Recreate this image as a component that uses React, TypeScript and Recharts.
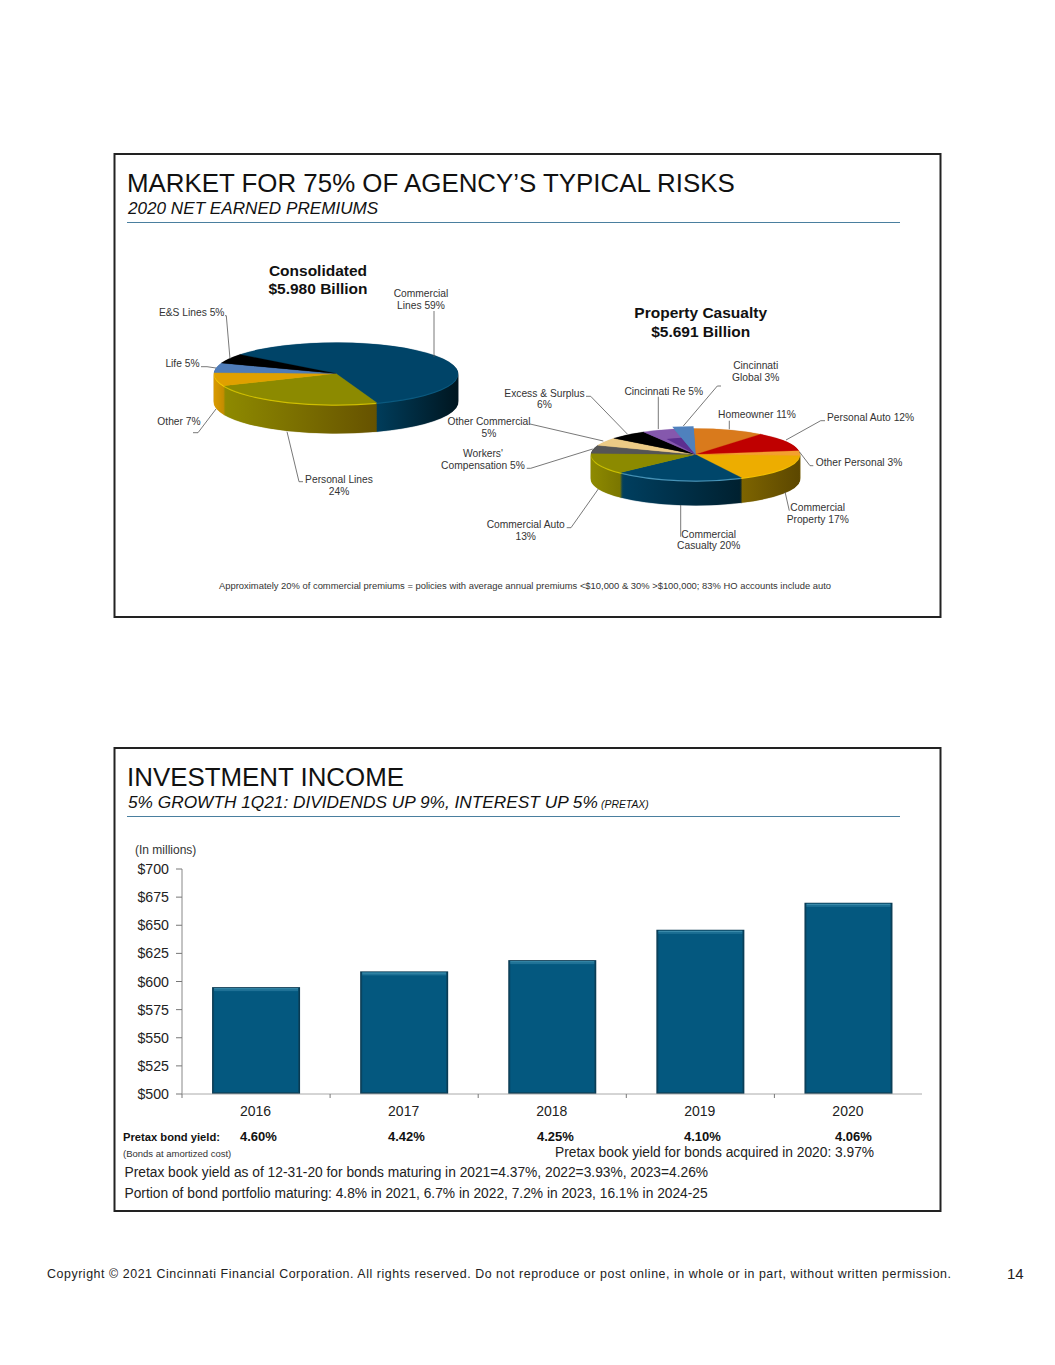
import React from "react";
import { PieChart, Pie, Cell, BarChart, Bar, XAxis, YAxis } from "recharts";

// ---- data ----
const consolidatedNames = ["Commercial Lines", "Personal Lines", "Other", "Life", "E&S Lines"];
const consolidatedValues = [59, 24, 7, 5, 5];
const propertyNames = ["Homeowner", "Personal Auto", "Other Personal", "Commercial Property", "Commercial Casualty", "Commercial Auto", "Workers' Compensation", "Other Commercial", "Excess & Surplus", "Cincinnati Re", "Cincinnati Global"];
const propertyValues = [11, 12, 3, 17, 20, 13, 5, 5, 6, 5, 3];
const barYears = ["2016", "2017", "2018", "2019", "2020"];
const incomeValues = [595, 609, 619, 646, 670];
const yTicks = [500, 525, 550, 575, 600, 625, 650, 675, 700];
const bondYields = ["4.60%", "4.42%", "4.25%", "4.10%", "4.06%"];

// ---- palettes ----
const consolidatedTop = ["#004468", "#8c8a00", "#e0a000", "#4f7cb8", "#000000"];
const consolidatedRim = ["#0c5c82", "#d6c400", "#f7d000", "#4f7cb8", "#000000"];
const consolidatedWall = [["#003c5a", "#001620"], ["#8e8a00", "#665200"], ["#d99a00", "#c48c00"], ["#3a5a88", "#3a5a88"], ["#000000", "#000000"]];
const propertyTop = ["#d97a1c", "#bf0000", "#f4a030", "#edad00", "#00466a", "#8c8a00", "#555555", "#eccb86", "#000000", "#8558ad", "#4f81bd"];
const propertyRim = ["#d97a1c", "#bf0000", "#f4a030", "#f2c200", "#4f9cc0", "#d0c400", "#555555", "#eccb86", "#000000", "#8558ad", "#4f81bd"];
const propertyWall = [["#a05a10", "#a05a10"], ["#8a0000", "#8a0000"], ["#b07a10", "#7a6000"], ["#7d6400", "#5c4700"], ["#003f60", "#00202f"], ["#8e8a00", "#7a7600"], ["#444444", "#444444"], ["#c0a060", "#c0a060"], ["#000000", "#000000"], ["#603a80", "#603a80"], ["#3a6090", "#3a6090"]];

const FONT = "'Liberation Sans', Arial, sans-serif";
const rad = Math.PI / 180;

function wallRange(start: number, end: number, cx: number, r: number) {
  let lo = Infinity, hi = -Infinity;
  for (let t = start; t >= end; t -= 0.5) {
    if (Math.sin(t * rad) <= 0) {
      const x = cx + r * Math.cos(t * rad);
      lo = Math.min(lo, x);
      hi = Math.max(hi, x);
    }
  }
  return lo === Infinity ? [cx - r, cx + r] : [lo, hi];
}

type P3 = { id: string; names: string[]; values: number[]; top: string[]; rim: string[]; wall: string[][]; cx: number; cy: number; rx: number; ry: number; depth: number; start: number; rimShift: number; explode?: boolean };

function Pie3D({ id, names, values, top, rim, wall, cx, cy, rx, ry, depth, start, rimShift, explode }: P3) {
  const k = ry / rx;
  const pad = 14;
  const W = 2 * rx + 2 * pad;
  const ccx = W / 2;
  const ccy = rx + pad;
  const depthU = depth / k;
  const H = ccy + rx + depthU + pad;
  const rows = names.map((name, i) => ({ name, value: values[i] }));
  const total = values.reduce((a, b) => a + b, 0);
  let acc = start;
  const spans = values.map((v) => {
    const s = acc;
    acc -= (v / total) * 360;
    return [s, acc];
  });
  const end = start - 360;
  const layers: number[] = [];
  for (let d = depthU; d > 0; d -= 0.5 / k) layers.push(d);
  const common = { cx: ccx, dataKey: "value", nameKey: "name", innerRadius: 0, outerRadius: rx, startAngle: start, endAngle: end, isAnimationActive: false, label: false, labelLine: false } as const;
  const gSpan = spans[spans.length - 1];
  return (
    <div style={{ position: "absolute", left: cx - W / 2, top: cy - ccy * k, width: W, height: H, transformOrigin: "0 0", transform: `scaleY(${k})` }}>
      <PieChart width={W} height={H} margin={{ top: 0, right: 0, bottom: 0, left: 0 }}>
        <defs>
          {spans.map((sp, i) => {
            const [a, b] = wallRange(sp[0], sp[1], ccx, rx);
            return (
              <linearGradient key={i} id={`${id}-w${i}`} gradientUnits="userSpaceOnUse" x1={a} x2={b} y1={0} y2={0}>
                <stop offset="0" stopColor={wall[i][0]} />
                <stop offset="1" stopColor={wall[i][1]} />
              </linearGradient>
            );
          })}
        </defs>
        {layers.map((d) => (
          <Pie key={`w${d}`} {...common} data={rows} cy={ccy + d} stroke="none">
            {rows.map((_, i) => <Cell key={i} fill={`url(#${id}-w${i})`} stroke={`url(#${id}-w${i})`} strokeWidth={0.4} />)}
          </Pie>
        ))}
        <Pie {...common} data={rows} cy={ccy + rimShift / k} stroke="none">
          {rows.map((_, i) => <Cell key={i} fill={rim[i]} stroke="none" />)}
        </Pie>
        <Pie {...common} data={rows} cy={ccy} stroke="none">
          {rows.map((_, i) => <Cell key={i} fill={top[i]} stroke={top[i]} strokeWidth={0.4} />)}
        </Pie>
        {explode && (
          <Pie {...common} data={[rows[rows.length - 1]]} cy={ccy} outerRadius={rx * 0.66} startAngle={gSpan[0] + 360 + 13} endAngle={gSpan[0] + 360} stroke="none" fill="#5c2f90" />
        )}
        {explode && (
          <Pie {...common} data={[rows[rows.length - 1]]} cy={ccy} outerRadius={rx + 9} startAngle={gSpan[0] + 360} endAngle={gSpan[1] + 360} stroke="none" fill={top[top.length - 1]} />
        )}
      </PieChart>
    </div>
  );
}

function BevelBar(props: any) {
  const { x, y, width, height } = props;
  return (
    <g>
      <rect x={x} y={y} width={width} height={height} fill="#0a3a52" />
      <rect x={x + 1} y={y + 1} width={width - 2} height={height - 2} fill="#0a4763" />
      <rect x={x + 2} y={y + 1} width={width - 4} height={height - 3} fill="#04587f" />
      <rect x={x + 2} y={y + 1} width={width - 4} height={1.5} fill="#3a8aaa" />
      <rect x={x + 2} y={y + 2.5} width={width - 4} height={1.5} fill="#1f7196" />
    </g>
  );
}

function YearTick(props: any) {
  const { x, y, payload, visibleTicksCount, width } = props;
  const band = (width || 740) / (visibleTicksCount || 5);
  return (
    <g>
      <line x1={x - band / 2} x2={x - band / 2} y1={y} y2={y + 4} stroke="#777" />
      <text x={x - 0.5} y={y + 22} textAnchor="middle" fontSize={14} fontFamily={FONT} fill="#222">{payload.value}</text>
    </g>
  );
}

const T = ({ x, y, s, size = 10.25, anchor = "start", bold, italic, fill = "#333", len }: any) => (
  <text x={x} y={y} fontSize={size} textAnchor={anchor} fontFamily={FONT} fontWeight={bold ? 700 : 400} fontStyle={italic ? "italic" : "normal"} fill={fill} {...(len ? { textLength: len, lengthAdjust: "spacingAndGlyphs" } : {})}>{s}</text>
);

const leaders = [
  "434,311 434,357",
  "225,315.7 226.3,315.7 230,359",
  "201,366.7 207,366.7 216,368",
  "193,432.7 198,432.7 216,409",
  "287,431.7 299,481.7 303,481.7",
  "721,386 717.3,386 683.3,426",
  "658.3,396.7 658.3,429",
  "729.3,420.7 729.3,429.3",
  "825,420.7 820.7,420.7 786,440",
  "813.3,465.7 810,465.7 799.3,451.7",
  "789.3,510.7 785,491.7",
  "680.7,505 680.7,536.7",
  "566.7,527.7 571,527.7 598.3,489",
  "526.7,468.3 530.7,468.3 592.7,449",
  "530,424 603.3,441",
  "586,396.3 590.7,396.3 627.3,434",
];

const yieldX = [240, 388, 537, 684, 835];

function Panel({ y, h }: { y: number; h: number }) {
  return <rect x={114.5} y={y} width={826} height={h} fill="none" stroke="#222" strokeWidth={2} />;
}

export default function App() {
  return (
    <div style={{ position: "absolute", left: 0, top: 0, width: 1055, height: 1365, background: "#fff", overflow: "hidden" }}>
      <Pie3D id="a" names={consolidatedNames} values={consolidatedValues} top={consolidatedTop} rim={consolidatedRim} wall={consolidatedWall} cx={336} cy={374} rx={122} ry={31} depth={29} start={142} rimShift={1.2} />
      <Pie3D id="b" names={propertyNames} values={propertyValues} top={propertyTop} rim={propertyRim} wall={propertyWall} cx={695.5} cy={454} rx={104.5} ry={26} depth={25} start={91} rimShift={1.2} explode />
      <div style={{ position: "absolute", left: 114.5, top: 860 }}>
        <BarChart width={807.5} height={264} data={barYears.map((year, i) => ({ year, income: incomeValues[i] }))} margin={{ top: 9, right: 0, bottom: 0, left: 0 }} barCategoryGap="20.3%">
          <YAxis width={67} domain={[500, 700]} ticks={yTicks} interval={0} tickFormatter={(v: number) => `$${v}`} tick={{ fontSize: 14.2, fontFamily: FONT, fill: "#222" }} tickSize={6} tickMargin={7} axisLine={{ stroke: "#888" }} tickLine={{ stroke: "#777" }} />
          <XAxis dataKey="year" height={30} interval={0} tickSize={0} tickMargin={0} tickLine={false} axisLine={{ stroke: "#aaa" }} tick={<YearTick />} />
          <Bar dataKey="income" isAnimationActive={false} shape={<BevelBar />} />
        </BarChart>
      </div>
      <svg width={1055} height={1365} style={{ position: "absolute", left: 0, top: 0, pointerEvents: "none" }}>
        <Panel y={154} h={463} />
        <Panel y={748} h={463} />
        <T x={127} y={192} s="MARKET FOR 75% OF AGENCY’S TYPICAL RISKS" size={25.88} fill="#111" />
        <T x={128} y={214} s="2020 NET EARNED PREMIUMS" size={17.14} italic fill="#111" />
        <line x1={127} x2={900} y1={222.5} y2={222.5} stroke="#4a7f9f" />
        <T x={318} y={276} s="Consolidated" size={15.5} bold anchor="middle" fill="#111" />
        <T x={318} y={294} s="$5.980 Billion" size={15.5} bold anchor="middle" fill="#111" />
        <T x={700.7} y={318} s="Property Casualty" size={15.5} bold anchor="middle" fill="#111" />
        <T x={700.7} y={337} s="$5.691 Billion" size={15.5} bold anchor="middle" fill="#111" />

        {leaders.map((p, i) => <polyline key={i} points={p} fill="none" stroke="#555" strokeWidth={0.8} />)}

        <T x={421} y={297} s="Commercial" anchor="middle" />
        <T x={421} y={308.7} s="Lines 59%" anchor="middle" />
        <T x={191.7} y={316} s="E&S Lines 5%" anchor="middle" />
        <T x={182.5} y={367} s="Life 5%" anchor="middle" />
        <T x={179} y={425} s="Other 7%" anchor="middle" />
        <T x={339} y={483} s="Personal Lines" anchor="middle" />
        <T x={339} y={495} s="24%" anchor="middle" />

        <T x={755.7} y={369} s="Cincinnati" anchor="middle" />
        <T x={755.7} y={381} s="Global 3%" anchor="middle" />
        <T x={757} y={418} s="Homeowner 11%" anchor="middle" />
        <T x={827} y={421} s="Personal Auto 12%" />
        <T x={815.7} y={465.7} s="Other Personal 3%" />
        <T x={817.7} y={511} s="Commercial" anchor="middle" />
        <T x={817.7} y={523} s="Property 17%" anchor="middle" />
        <T x={708.7} y={537.7} s="Commercial" anchor="middle" />
        <T x={708.7} y={549} s="Casualty 20%" anchor="middle" />
        <T x={525.7} y={528} s="Commercial Auto" anchor="middle" />
        <T x={525.7} y={539.7} s="13%" anchor="middle" />
        <T x={483} y={457} s="Workers'" anchor="middle" />
        <T x={483} y={468.7} s="Compensation 5%" anchor="middle" />
        <T x={489} y={425.3} s="Other Commercial" anchor="middle" />
        <T x={489} y={437} s="5%" anchor="middle" />
        <T x={544.5} y={397} s="Excess & Surplus" anchor="middle" />
        <T x={544.5} y={408.3} s="6%" anchor="middle" />
        <T x={663.7} y={394.7} s="Cincinnati Re 5%" anchor="middle" />

        <T x={219} y={589} s="Approximately 20% of commercial premiums = policies with average annual premiums <$10,000 & 30% >$100,000; 83% HO accounts include auto" size={9.6} len={612} />

        <T x={127} y={786} s="INVESTMENT INCOME" size={25.88} fill="#111" />
        <T x={128} y={808} s="5% GROWTH 1Q21: DIVIDENDS UP 9%, INTEREST UP 5%" size={17.27} italic fill="#111" />
        <T x={601} y={808} s="(PRETAX)" size={10.4} italic fill="#111" />
        <line x1={127} x2={900} y1={816.5} y2={816.5} stroke="#4a7f9f" />
        <T x={135} y={854} s="(In millions)" size={12} />

        <T x={123} y={1140.7} s="Pretax bond yield:" size={11.2} bold fill="#111" />
        {bondYields.map((s, i) => <T key={s} x={yieldX[i]} y={1140.7} s={s} size={13} bold fill="#111" />)}
        <T x={123} y={1156.7} s="(Bonds at amortized cost)" size={9.5} />
        <T x={555} y={1156.7} s="Pretax book yield for bonds acquired in 2020: 3.97%" size={13.78} fill="#222" />
        <T x={124.5} y={1177.3} s="Pretax book yield as of 12-31-20 for bonds maturing in 2021=4.37%, 2022=3.93%, 2023=4.26%" size={13.78} fill="#222" />
        <T x={124.5} y={1198.3} s="Portion of bond portfolio maturing: 4.8% in 2021, 6.7% in 2022, 7.2% in 2023, 16.1% in 2024-25" size={13.78} fill="#222" />

        <text x={47} y={1278} fontSize={12.4} fontFamily={FONT} fill="#222" textLength={904} lengthAdjust="spacing">Copyright © 2021 Cincinnati Financial Corporation. All rights reserved. Do not reproduce or post online, in whole or in part, without written permission.</text>
        <T x={1007} y={1279} s="14" size={15} fill="#222" />
      </svg>
    </div>
  );
}
